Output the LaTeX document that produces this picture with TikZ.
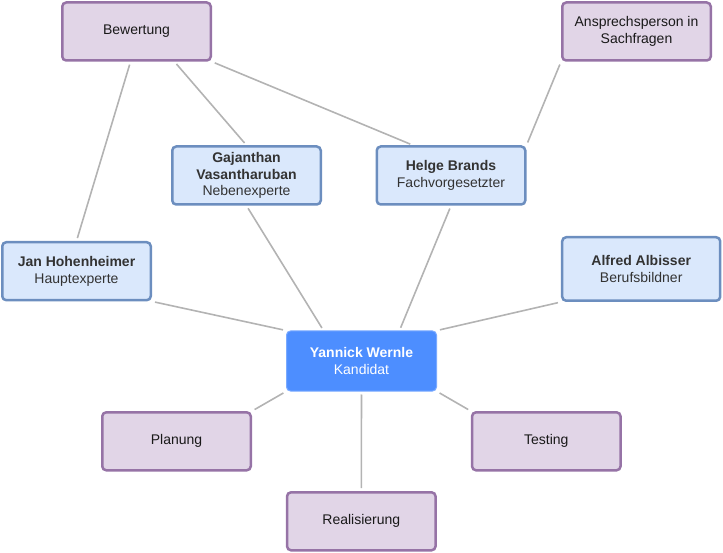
\documentclass[tikz,border=0pt]{standalone}
\usepackage{fontspec}
\setmainfont{Liberation Sans}
\definecolor{taskfill}{HTML}{E1D5E7}
\definecolor{taskline}{HTML}{9673A6}
\definecolor{persfill}{HTML}{DAE8FC}
\definecolor{persline}{HTML}{6C8EBF}
\definecolor{candfill}{HTML}{4D8EFF}
\definecolor{candline}{HTML}{7AAAFF}
\definecolor{linkgray}{HTML}{B3B3B3}

\begin{document}
\begin{tikzpicture}[x=1pt, y=-1pt,
        box/.style={rectangle, rounded corners=4pt, line width=2.5pt,
        minimum width=148.5pt, minimum height=58pt, inner sep=0pt, align=center,
        font=\fontsize{14}{16.8}\selectfont},
        task/.style={box, draw=taskline, fill=taskfill, text=black!90},
        pers/.style={box, draw=persline, fill=persfill, text=black!80},
        cand/.style={box, draw=candline, fill=candfill, line width=1pt,
        minimum width=150pt, minimum height=60pt, text=white},
        link/.style={draw=linkgray, line width=1.6pt, shorten <=3pt, shorten >=3pt}]
        \useasboundingbox (0, 0) rectangle (723, 553);

        % tasks
        \node[task] (bew)  at (136.5, 31.5) {Bewertung};
        \node[task] (ansp) at (636.5, 31.5) {Ansprechsperson in\\Sachfragen};
        \node[task] (plan) at (176.5, 441.3) {Planung};
        \node[task] (test) at (546.3, 441.3) {Testing};
        \node[task] (real) at (361.3, 521.3) {Realisierung};

        % persons
        \node[pers] (gaj)    at (246.5, 175.5) {\textbf{Gajanthan}\\\textbf{Vasantharuban}\\Nebenexperte};
        \node[pers] (helge)  at (451, 175.5) {\textbf{Helge Brands}\\Fachvorgesetzter};
        \node[pers] (jan)    at (76.5, 271.2) {\textbf{Jan Hohenheimer}\\Hauptexperte};
        \node[pers, minimum width=158pt, minimum height=63.5pt] (alfred) at (641.2, 269) {\textbf{Alfred Albisser}\\Berufsbildner};
        \node[cand] (yan)    at (361.5, 361) {\textbf{Yannick Wernle}\\Kandidat};

        \draw[link] ([xshift=-6pt]bew.south) -- (jan.north);
        \draw[link] ([xshift=38pt]bew.south) -- (gaj.north);
        \draw[link] (bew.south east) -- ([xshift=-38pt]helge.north);
        \draw[link] (ansp.south west) -- (helge.north east);
        \draw[link] (gaj.south) -- ([xshift=-38pt]yan.north);
        \draw[link] (helge.south) -- ([xshift=38pt]yan.north);
        \draw[link] (jan.south east) -- (yan.north west);
        \draw[link] (alfred.south west) -- (yan.north east);
        \draw[link] (yan.south west) -- (plan.north east);
        \draw[link] (yan.south east) -- (test.north west);
        \draw[link] (yan.south) -- (real.north);
    \end{tikzpicture}
\end{document}
